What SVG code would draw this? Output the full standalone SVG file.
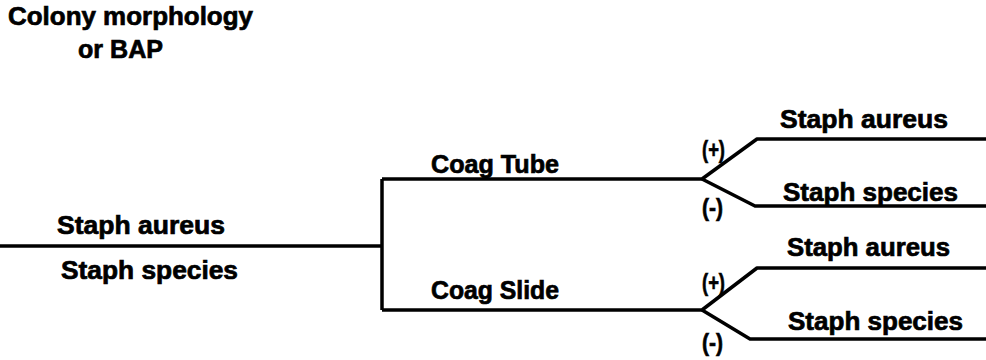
<svg xmlns="http://www.w3.org/2000/svg" width="986" height="360" viewBox="0 0 986 360">
  <style>
    .lbl { font-family: "Liberation Sans", Arial, sans-serif; font-weight: bold; font-size: 26px; fill: #000; stroke: #000; stroke-width: 0.7; }
    .sign { font-family: "Liberation Sans", Arial, sans-serif; font-weight: bold; font-size: 23px; fill: #000; stroke: #000; stroke-width: 0.6; }
    .wire { fill: none; stroke: #000; stroke-width: 3.5; stroke-linejoin: round; }
  </style>
  <rect width="986" height="360" fill="#fff"/>

  <!-- tree connectors -->
  <g id="connectors">
    <path class="wire" d="M0 246 H382"/>
    <path class="wire" d="M382 179 V310"/>
    <path class="wire" d="M382 179 H702 L757 139 H986"/>
    <path class="wire" d="M702 179 L755 206 H986"/>
    <path class="wire" d="M382 310 H702 L757 268 H986"/>
    <path class="wire" d="M702 310 L750 339 H986"/>
  </g>

  <g id="title">
    <text class="lbl" x="8" y="25" textLength="245" lengthAdjust="spacingAndGlyphs">Colony morphology</text>
    <text class="lbl" x="78" y="58" textLength="85" lengthAdjust="spacingAndGlyphs">or BAP</text>
  </g>

  <g id="start">
    <text class="lbl" x="57" y="234" textLength="168" lengthAdjust="spacingAndGlyphs">Staph aureus</text>
    <text class="lbl" x="61" y="279" textLength="177" lengthAdjust="spacingAndGlyphs">Staph species</text>
  </g>

  <g id="coag-tube">
    <text class="lbl" x="431" y="173" textLength="128" lengthAdjust="spacingAndGlyphs">Coag Tube</text>
  </g>

  <g id="coag-slide">
    <text class="lbl" x="431" y="299" textLength="128" lengthAdjust="spacingAndGlyphs">Coag Slide</text>
  </g>

  <g id="tube-pos">
    <text class="sign" x="702" y="158" textLength="23" lengthAdjust="spacingAndGlyphs">(+)</text>
    <text class="lbl" x="780" y="128" textLength="168" lengthAdjust="spacingAndGlyphs">Staph aureus</text>
  </g>

  <g id="tube-neg">
    <text class="sign" x="702" y="216" textLength="21" lengthAdjust="spacingAndGlyphs">(-)</text>
    <text class="lbl" x="783" y="201" textLength="175" lengthAdjust="spacingAndGlyphs">Staph species</text>
  </g>

  <g id="slide-pos">
    <text class="sign" x="702" y="291" textLength="23" lengthAdjust="spacingAndGlyphs">(+)</text>
    <text class="lbl" x="787" y="256" textLength="163" lengthAdjust="spacingAndGlyphs">Staph aureus</text>
  </g>

  <g id="slide-neg">
    <text class="sign" x="702" y="351" textLength="21" lengthAdjust="spacingAndGlyphs">(-)</text>
    <text class="lbl" x="788" y="330" textLength="175" lengthAdjust="spacingAndGlyphs">Staph species</text>
  </g>
</svg>
